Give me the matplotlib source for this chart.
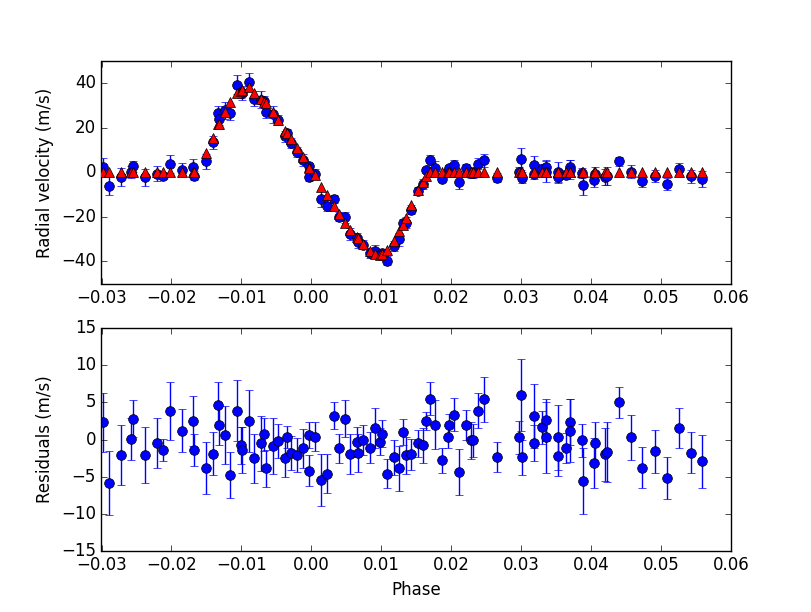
import numpy as np
import matplotlib
matplotlib.use('Agg')
import matplotlib.pyplot as plt

plt.style.use('classic')

# orbital phase of each RV measurement
phase = np.array([
    -0.0298, -0.0289, -0.0272, -0.0258, -0.0255, -0.0238, -0.0221, -0.0212,
    -0.0202, -0.0185, -0.0169, -0.0167, -0.01505, -0.01405, -0.01334, -0.01325,
    -0.01234, -0.01163, -0.01063, -0.0101, -0.0099, -0.0089, -0.0082, -0.0072,
    -0.00677, -0.00648, -0.00548, -0.00477, -0.00377, -0.00348, -0.00291, -0.00205,
    -0.0012, -0.00034, -0.0003, 0.00047, 0.00137, 0.00223, 0.00323, 0.00395,
    0.0048, 0.0056, 0.00652, 0.00666, 0.00737, 0.00837, 0.00914, 0.0098,
    0.01009, 0.0108, 0.01186, 0.01252, 0.01309, 0.01352, 0.01423, 0.01523,
    0.01595, 0.01637, 0.01695, 0.01766, 0.01866, 0.01952, 0.01966, 0.02037,
    0.02109, 0.02209, 0.0228, 0.02309, 0.0238, 0.02466, 0.0265, 0.02966,
    0.02994, 0.03009, 0.0318, 0.0318, 0.03304, 0.03351, 0.03351, 0.03523,
    0.03523, 0.03637, 0.03694, 0.03694, 0.03866, 0.0388, 0.04037, 0.04051,
    0.04204, 0.04223, 0.04394, 0.04566, 0.04737, 0.04909, 0.05086, 0.05257,
    0.05429, 0.05594])

# model RV (triangles)
model = np.array([
    0, 0, 0, 0, 0, 0, 0, 0,
    0, 0, 0, 0, 8.9, 15.4, 22.0, 22.0,
    27.3, 31.6, 35.6, 36.8, 37.2, 38.2, 35.6, 33.2,
    31.6, 31.0, 27.1, 23.8, 18.8, 17.6, 15.0, 11.2,
    6.8, 2.3, 2.1, -1.0, -6.5, -10.3, -15.2, -18.6,
    -22.9, -25.8, -29.0, -29.5, -32.3, -35.1, -36.8, -36.9,
    -36.8, -35.0, -30.6, -26.2, -23.5, -20.5, -14.7, -8.0,
    -4.3, -1.5, 0, 0, 0, 0, 0, 0,
    0, 0, 0, 0, 0, 0, 0, 0,
    0, 0, 0, 0, 0, 0, 0, 0,
    0, 0, 0, 0, 0, 0, 0, 0,
    0, 0, 0, 0, 0, 0, 0, 0,
    0, 0])

# measured RV (circles)
rv = np.array([
    2.3, -5.9, -2.1, 0.1, 2.8, -2.1, -0.5, -1.4,
    3.8, 1.2, 2.5, -1.4, 5.0, 13.5, 26.7, 23.9,
    27.9, 26.8, 39.5, 36.0, 35.8, 40.7, 33.1, 32.7,
    32.3, 27.1, 26.2, 23.6, 16.3, 17.9, 13.2, 9.1,
    5.6, -1.9, 2.7, -0.6, -12.0, -14.9, -12.0, -19.8,
    -20.1, -27.8, -29.3, -31.3, -32.4, -36.2, -35.2, -37.2,
    -36.0, -39.6, -33.0, -30.1, -22.5, -22.6, -16.7, -8.5,
    -5.1, 1.0, 5.5, 2.0, -2.8, 0.3, 1.9, 3.35,
    -4.4, 2.0, -0.1, -0.1, 3.9, 5.4, -2.4, 0.3,
    6.0, -2.4, 3.2, -0.5, 1.65, 2.6, 0.3, 0.3,
    -2.2, -1.1, 2.4, 1.2, -0.1, -5.6, -3.2, -0.5,
    -2.0, -1.7, 5.0, 0.3, -3.8, -1.6, -5.2, 1.6,
    -1.75, -2.95])

err = np.array([
    4.0, 4.3, 4.0, 2.8, 2.5, 3.8, 3.4, 1.5,
    3.9, 2.9, 3.4, 2.2, 3.5, 2.9, 3.0, 2.6,
    3.9, 3.1, 4.1, 2.5, 3.1, 4.2, 3.3, 3.7,
    2.2, 2.5, 3.8, 2.3, 2.5, 1.5, 2.3, 2.3,
    2.6, 2.1, 1.7, 2.0, 3.5, 2.6, 1.8, 1.9,
    2.5, 2.7, 2.0, 2.6, 2.0, 2.1, 2.7, 1.8,
    1.8, 2.0, 2.4, 3.0, 1.7, 2.5, 2.1, 1.8,
    2.3, 1.2, 2.2, 3.3, 1.7, 1.5, 1.5, 2.2,
    3.1, 2.0, 2.5, 2.2, 2.4, 3.0, 2.0, 2.2,
    4.8, 2.4, 4.3, 2.4, 2.2, 2.8, 4.8, 4.4,
    2.7, 2.0, 3.1, 4.2, 2.2, 4.4, 3.4, 2.8,
    3.6, 4.0, 2.1, 3.0, 2.8, 2.9, 2.8, 2.7,
    2.8, 3.6])

resid = rv - model

fig = plt.figure(figsize=(8.12, 6.12), dpi=100)

ax1 = fig.add_subplot(211)
ax1.errorbar(phase, rv, yerr=err, fmt='bo', ecolor='b', markersize=7, capsize=3)
# model drawn over the data, as in the original
ax1.plot(phase, model, 'r^', markersize=7, zorder=5)
ax1.set_xlim(-0.03, 0.06)
ax1.set_ylim(-50, 50)
ax1.set_yticks([-40, -20, 0, 20, 40])
ax1.set_ylabel('Radial velocity (m/s)')

ax2 = fig.add_subplot(212)
ax2.errorbar(phase, resid, yerr=err, fmt='bo', ecolor='b', markersize=7, capsize=3)
ax2.set_xlim(-0.03, 0.06)
ax2.set_ylim(-15, 15)
ax2.set_xlabel('Phase')
ax2.set_ylabel('Residuals (m/s)')

fig.savefig('out.png', dpi=100)
